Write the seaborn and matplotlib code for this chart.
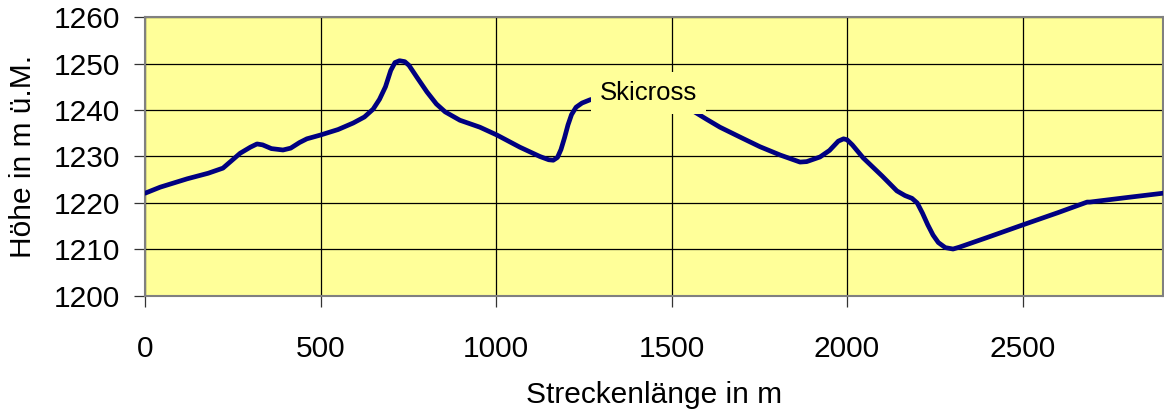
import matplotlib
matplotlib.use("Agg")
import matplotlib.pyplot as plt
import seaborn as sns

# Streckenprofil
strecke_m = [0, 43, 120, 180, 222, 245, 271, 300, 319, 335, 360, 393, 415, 440, 461,
             499, 550, 593, 625, 650, 668, 685, 700, 712, 725, 740, 752, 775, 803,
             830, 855, 897, 954, 1003, 1068, 1125, 1150, 1163, 1175, 1185, 1195,
             1205, 1215, 1228, 1245, 1268, 1300, 1400, 1500, 1530, 1561, 1600, 1638,
             1700, 1752, 1810, 1866, 1885, 1923, 1950, 1975, 1990, 2000, 2015, 2046,
             2100, 2142, 2165, 2185, 2200, 2215, 2230, 2245, 2260, 2280, 2302, 2320,
             2400, 2501, 2600, 2684, 2692, 2800, 2900]
hoehe_m = [1222.1, 1223.4, 1225.2, 1226.4, 1227.5, 1229.0, 1230.7, 1232.0, 1232.7,
           1232.5, 1231.7, 1231.4, 1231.8, 1233.0, 1233.8, 1234.6, 1235.8, 1237.2,
           1238.5, 1240.2, 1242.3, 1245.0, 1248.5, 1250.2, 1250.6, 1250.4, 1249.6,
           1247.0, 1243.9, 1241.3, 1239.6, 1237.8, 1236.3, 1234.6, 1232.0, 1230.0,
           1229.3, 1229.2, 1229.8, 1231.5, 1234.0, 1236.8, 1239.0, 1240.6, 1241.5,
           1242.2, 1242.8, 1243.3, 1242.5, 1241.3, 1239.8, 1238.0, 1236.3, 1234.0,
           1232.1, 1230.3, 1228.8, 1228.9, 1229.9, 1231.3, 1233.3, 1233.8, 1233.6,
           1232.5, 1229.7, 1225.8, 1222.6, 1221.6, 1221.0, 1220.0, 1217.8, 1215.3,
           1213.1, 1211.5, 1210.4, 1210.1, 1210.5, 1212.6, 1215.3, 1217.9, 1220.2,
           1220.2, 1221.2, 1222.1]

x_ticks = [0, 500, 1000, 1500, 2000, 2500]
y_ticks = [1200, 1210, 1220, 1230, 1240, 1250, 1260]

sns.set_style("white")
plt.rcParams['font.family'] = ['Liberation Sans', 'DejaVu Sans']
plt.rcParams['text.color'] = 'black'
plt.rcParams['axes.labelcolor'] = 'black'
plt.rcParams['xtick.color'] = 'black'
plt.rcParams['ytick.color'] = 'black'

fig = plt.figure(figsize=(11.64, 4.12), dpi=100)
ax = fig.add_axes([0.1246, 0.2816, 0.8745, 0.6771])
ax.set_facecolor('#FFFF99')

sns.lineplot(x=strecke_m, y=hoehe_m, ax=ax, color='#000080', linewidth=3.4,
             solid_joinstyle='round', solid_capstyle='round', zorder=3)

ax.set_xlim(0, 2900)
ax.set_ylim(1200, 1260)
ax.set_xticks(x_ticks)
ax.set_yticks(y_ticks)
ax.grid(True, color='black', linewidth=0.9)
ax.set_axisbelow(True)

for s in ax.spines.values():
    s.set_color('#808080')
    s.set_linewidth(1.5)

ax.tick_params(axis='x', direction='out', length=8, width=0.9, color='#333333',
               labelsize=21.5, pad=20, bottom=True)
ax.tick_params(axis='y', direction='out', length=8, width=0.9, color='#333333',
               labelsize=21.5, pad=10, left=True)

ax.set_xlabel('Streckenlänge in m', fontsize=21.5, labelpad=13)
ax.set_ylabel('Höhe in m ü.M.', fontsize=21.5, labelpad=12)

ax.text(1296, 1243.7, 'Skicross', fontsize=18.5, ha='left', va='center', zorder=5,
        bbox=dict(facecolor='#FFFF99', edgecolor='none', boxstyle='square,pad=0.35'))

fig.savefig('out.png', dpi=100)
